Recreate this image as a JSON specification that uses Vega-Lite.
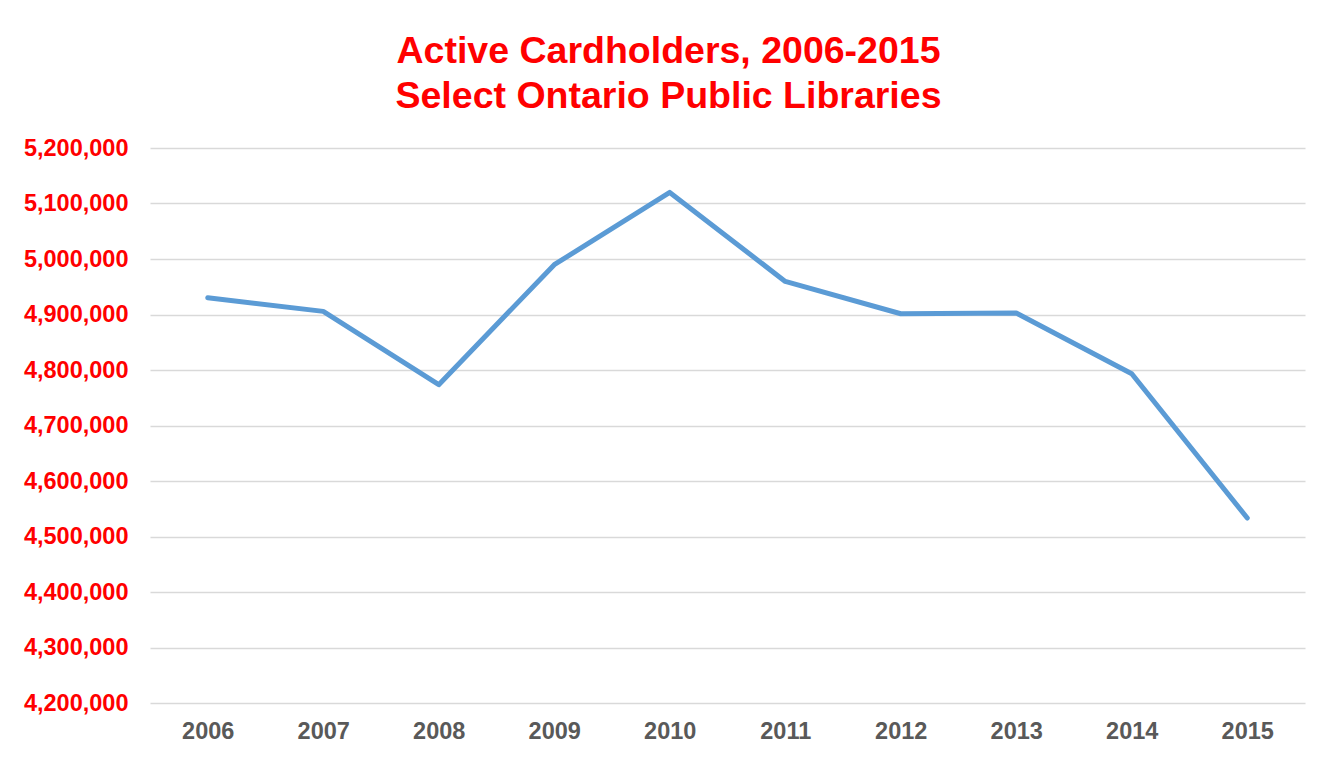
{
  "$schema": "https://vega.github.io/schema/vega-lite/v6.json",
  "width": 1155,
  "height": 555,
  "autosize": {"type": "none"},
  "padding": {"left": 150, "top": 148, "right": 29, "bottom": 54},
  "background": "white",
  "title": {
    "text": ["Active Cardholders, 2006-2015", "Select Ontario Public Libraries"],
    "font": "Liberation Sans",
    "fontSize": 37.5,
    "fontWeight": "bold",
    "color": "#FF0000",
    "lineHeight": 45,
    "anchor": "middle",
    "dx": -59,
    "offset": 21
  },
  "data": {
    "values": [
      {"year": "2006", "cardholders": 4930000},
      {"year": "2007", "cardholders": 4905600},
      {"year": "2008", "cardholders": 4773500},
      {"year": "2009", "cardholders": 4989700},
      {"year": "2010", "cardholders": 5120000},
      {"year": "2011", "cardholders": 4959600},
      {"year": "2012", "cardholders": 4901400},
      {"year": "2013", "cardholders": 4902700},
      {"year": "2014", "cardholders": 4793300},
      {"year": "2015", "cardholders": 4533300}
    ]
  },
  "mark": {"type": "line", "color": "#5B9BD5", "strokeWidth": 5, "strokeCap": "round", "strokeJoin": "round"},
  "encoding": {
    "x": {
      "field": "year",
      "type": "ordinal",
      "scale": {"type": "point", "padding": 0.5},
      "axis": {
        "title": null,
        "labelAngle": 0,
        "labelFont": "Liberation Sans",
        "labelFontSize": 23.5,
        "labelFontWeight": "bold",
        "labelColor": "#595959",
        "labelPadding": 16,
        "ticks": false,
        "domain": false,
        "grid": false
      }
    },
    "y": {
      "field": "cardholders",
      "type": "quantitative",
      "scale": {"domain": [4200000, 5200000], "nice": false, "zero": false},
      "axis": {
        "title": null,
        "values": [4200000, 4300000, 4400000, 4500000, 4600000, 4700000, 4800000, 4900000, 5000000, 5100000, 5200000],
        "format": ",d",
        "labelFont": "Liberation Sans",
        "labelFontSize": 23.5,
        "labelFontWeight": "bold",
        "labelColor": "#FF0000",
        "labelPadding": 22,
        "ticks": false,
        "domain": false,
        "grid": true,
        "gridColor": "#D9D9D9",
        "gridWidth": 1.5
      }
    }
  },
  "config": {"view": {"stroke": null}}
}
